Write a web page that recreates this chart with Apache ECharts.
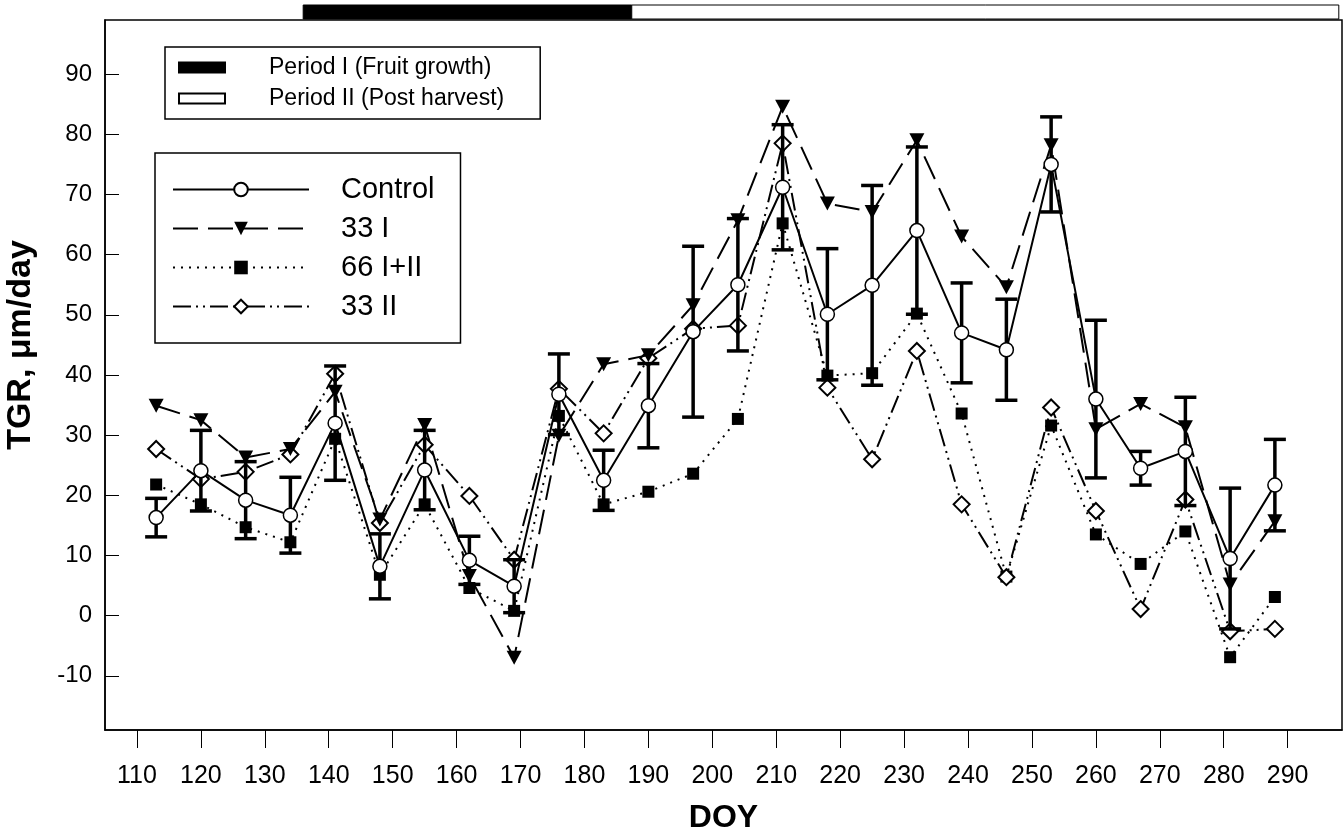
<!DOCTYPE html>
<html>
<head>
<meta charset="utf-8">
<script src="https://cdn.jsdelivr.net/npm/echarts@6/dist/echarts.min.js"></script>
<style>
  html, body { margin: 0; padding: 0; background: #fff; }
  #chart { width: 1344px; height: 835px; }
</style>
</head>
<body>
<div id="chart"></div>
<script>
  // day of year of each sample
  var doy = [113, 120, 127, 134, 141, 148, 155, 162, 169, 176, 183, 190, 197,
             204, 211, 218, 225, 232, 239, 246, 253, 260, 267, 274, 281, 288];

  var control = [16.3, 24.1, 19.2, 16.7, 32, 8.2, 24.2, 9.2, 4.9, 36.8, 22.5, 34.9, 47.2,
                 55, 71.2, 50.1, 54.9, 64, 47, 44.2, 75, 36, 24.5, 27.3, 9.5, 21.7];
  var controlErr = [3.2, 6.7, 6.4, 6.3, 9.5, 5.4, 6.6, 4, 4.4, 6.7, 5, 7, 14.2,
                    11, 10.4, 10.9, 16.6, 13.9, 8.3, 8.4, 7.9, 13.1, 2.8, 9, 11.7, 7.6];
  var t33I = [34.9, 32.5, 26.3, 27.7, 37.2, 16, 31.7, 6.6, -7, 29.9, 41.8, 43.3, 51.6,
              65.7, 84.6, 68.5, 67.1, 79, 63, 54.6, 78.2, 31, 35.2, 31.3, 5.2, 15.7];
  var t66 = [21.8, 18.5, 14.7, 12.2, 29.4, 6.8, 18.5, 4.6, 0.8, 33.2, 18.5, 20.6, 23.6,
             32.7, 65.2, 39.9, 40.3, 50.2, 33.6, 6.5, 31.6, 13.5, 8.6, 14, -6.9, 3.1];
  var t33II = [27.7, 22.7, 23.9, 26.8, 40.2, 15.4, 28.4, 19.9, 9.3, 37.7, 30.3, 42.8, 47.7,
               48.2, 78.5, 37.9, 26, 44, 18.5, 6.4, 34.6, 17.4, 1.1, 19.3, -2.6, -2.2];

  // periods drawn as bars above the plot
  var periodNames = ['Period I (Fruit growth)', 'Period II (Post harvest)'];
  var periodStart = [136, 187.4];
  var periodEnd = [187.4, 298];

  var xTicks = [110, 120, 130, 140, 150, 160, 170, 180, 190, 200, 210, 220, 230, 240, 250, 260, 270, 280, 290];
  var yTicks = [-10, 0, 10, 20, 30, 40, 50, 60, 70, 80, 90];

  var font = 'Liberation Sans, Arial, sans-serif';

  function pairs(vals) {
    return doy.map(function (d, i) { return [d, vals[i]]; });
  }

  var downTri = 'path://M0,0 L10,0 L5,9 Z';

  function periodSeries(idx, fill) {
    return {
      name: periodNames[idx],
      type: 'custom',
      clip: false,
      silent: true,
      itemStyle: { color: fill, borderColor: '#000', borderWidth: 1 },
      data: [[periodStart[idx], periodEnd[idx]]],
      encode: { x: [0, 1] },
      renderItem: function (params, api) {
        var a = api.coord([api.value(0), 99]);
        var b = api.coord([api.value(1), 99]);
        return {
          type: 'rect',
          shape: { x: a[0], y: a[1] - 15, width: b[0] - a[0], height: 14 },
          style: { fill: fill, stroke: '#000', lineWidth: 1 }
        };
      }
    };
  }

  var chart = echarts.init(document.getElementById('chart'));
  chart.setOption({
    animation: false,
    grid: {
      left: 105, right: 2, top: 20, bottom: 105,
      outerBoundsMode: 'none',
      show: true, borderColor: '#000', borderWidth: 1.5
    },
    legend: [
      {
        data: periodNames,
        orient: 'vertical',
        left: 165, top: 47,
        padding: [9, 36, 9, 13],
        itemGap: 8,
        itemWidth: 46, itemHeight: 10,
        borderColor: '#000', borderWidth: 1.5,
        selectedMode: false,
        icon: 'rect',
        textStyle: { fontFamily: font, fontSize: 23, color: '#000', padding: [0, 0, 0, 39] }
      },
      {
        data: ['Control', '33 I', '66 I+II', '33 II'],
        orient: 'vertical',
        left: 155, top: 153,
        padding: [22, 26, 22, 17],
        itemGap: 10,
        itemWidth: 136, itemHeight: 17,
        borderColor: '#000', borderWidth: 1.5,
        selectedMode: false,
        textStyle: { fontFamily: font, fontSize: 29, color: '#000', padding: [0, 0, 0, 27] }
      }
    ],
    xAxis: {
      type: 'value',
      min: 105, max: 298.5,
      name: 'DOY',
      nameLocation: 'middle',
      nameGap: 72,
      nameTextStyle: { fontFamily: font, fontSize: 32, fontWeight: 'bold', color: '#000' },
      axisLine: { onZero: false, lineStyle: { color: '#000', width: 1.5 } },
      axisTick: { customValues: xTicks, length: 18, lineStyle: { color: '#000', width: 1 } },
      axisLabel: { customValues: xTicks, margin: 34, fontFamily: font, fontSize: 25, color: '#000' },
      splitLine: { show: false }
    },
    yAxis: {
      type: 'value',
      min: -19, max: 99,
      name: 'TGR, μm/day',
      nameLocation: 'middle',
      nameGap: 67,
      nameTextStyle: { fontFamily: font, fontSize: 34, fontWeight: 'bold', color: '#000', padding: [0, 0, 0, 60] },
      axisLine: { onZero: false, lineStyle: { color: '#000', width: 1.5 } },
      axisTick: { customValues: yTicks, inside: true, length: 14, lineStyle: { color: '#000', width: 1 } },
      axisLabel: { customValues: yTicks, margin: 13, fontFamily: font, fontSize: 24, color: '#000' },
      splitLine: { show: false }
    },
    series: [
      periodSeries(0, '#000'),
      periodSeries(1, '#fff'),
      {
        name: '66 I+II',
        type: 'line',
        data: pairs(t66),
        symbol: 'rect', symbolSize: 12,
        itemStyle: { color: '#000', borderColor: '#000', borderWidth: 0 },
        lineStyle: { color: '#000', width: 2, type: [2, 6] },
        z: 2
      },
      {
        name: '33 II',
        type: 'line',
        data: pairs(t33II),
        symbol: 'diamond', symbolSize: 16,
        itemStyle: { color: '#fff', borderColor: '#000', borderWidth: 2 },
        lineStyle: { color: '#000', width: 2, type: [18, 5, 2, 5, 2, 5] },
        z: 3
      },
      {
        name: '33 I',
        type: 'line',
        data: pairs(t33I),
        symbol: downTri, symbolSize: [15, 14],
        itemStyle: { color: '#000', borderColor: '#000', borderWidth: 0 },
        lineStyle: { color: '#000', width: 2, type: [25, 10] },
        z: 4
      },
      {
        name: 'Control err',
        type: 'custom',
        data: doy.map(function (d, i) { return [d, control[i] - controlErr[i], control[i] + controlErr[i]]; }),
        encode: { x: 0, y: [1, 2] },
        z: 5,
        renderItem: function (params, api) {
          var lo = api.coord([api.value(0), api.value(1)]);
          var hi = api.coord([api.value(0), api.value(2)]);
          var w = 11;
          var st = { stroke: '#000', lineWidth: 3.5 };
          return {
            type: 'group',
            children: [
              { type: 'line', shape: { x1: lo[0], y1: lo[1], x2: hi[0], y2: hi[1] }, style: st },
              { type: 'line', shape: { x1: lo[0] - w, y1: lo[1], x2: lo[0] + w, y2: lo[1] }, style: st },
              { type: 'line', shape: { x1: hi[0] - w, y1: hi[1], x2: hi[0] + w, y2: hi[1] }, style: st }
            ]
          };
        }
      },
      {
        name: 'Control',
        type: 'line',
        data: pairs(control),
        symbol: 'circle', symbolSize: 14,
        itemStyle: { color: '#fff', borderColor: '#000', borderWidth: 1.5 },
        lineStyle: { color: '#000', width: 2, type: 'solid' },
        z: 6
      }
    ]
  });
</script>
</body>
</html>
